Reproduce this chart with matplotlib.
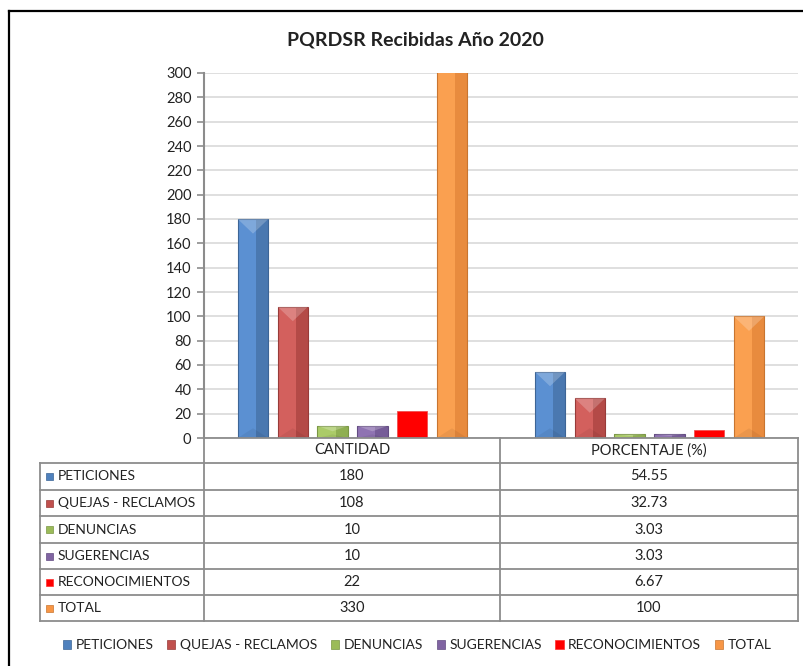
import numpy as np
import matplotlib
matplotlib.use("Agg")
import matplotlib.pyplot as plt
from matplotlib.patches import Rectangle, Polygon, Patch
from matplotlib.lines import Line2D

# ---- data ----
categories = ["CANTIDAD", "PORCENTAJE (%)"]
series = ["PETICIONES", "QUEJAS - RECLAMOS", "DENUNCIAS", "SUGERENCIAS",
          "RECONOCIMIENTOS", "TOTAL"]
cantidad = [180, 108, 10, 10, 22, 330]
porcentaje = [54.55, 32.73, 3.03, 3.03, 6.67, 100]
cantidad_txt = ["180", "108", "10", "10", "22", "330"]
porcentaje_txt = ["54.55", "32.73", "3.03", "3.03", "6.67", "100"]
yticks = list(range(0, 301, 20))

# base / light / dark shades per series
base = ["#4F81BD", "#C0504D", "#9BBB59", "#8064A2", "#FF0000", "#F79646"]
light = ["#5B90D2", "#D3605D", "#ABCB68", "#8F73B2", "#FF0000", "#FAA050"]
dark = ["#4A78B0", "#B44A47", "#8FAF52", "#765C98", "#FF0000", "#E88B3E"]
edge = ["#3D6596", "#983B39", "#7A9644", "#634C82", "#FF3030", "#C87530"]
flat = [False, False, False, False, True, False]

plt.rcParams['font.family'] = ['Lato', 'DejaVu Sans']

W, H = 804, 666
fig = plt.figure(figsize=(W / 100, H / 100), dpi=100)

def fx(px):
    return px / W

def fy(py):
    return 1 - py / H

# outer frame
fig.add_artist(Line2D([fx(9.5), fx(9.5)], [fy(10.5), fy(700)], color="black", lw=1.6))
fig.add_artist(Line2D([fx(9.5), fx(810)], [fy(10.5), fy(10.5)], color="black", lw=1.6))

x_left, x_right, y_top, y_bot = 204, 798, 73, 438
ax = fig.add_axes([fx(x_left), fy(y_bot), fx(x_right - x_left), (y_bot - y_top) / H])
ax.set_xlim(0, 2)
ax.set_ylim(0, 300)
ax.set_yticks(yticks)
ax.set_yticklabels([str(t) for t in yticks], fontsize=10.5, color="#222222")
ax.set_xticks([])
ax.grid(axis="y", color="#D9D9D9", lw=1.2)
ax.set_axisbelow(True)
for s in ["top", "right", "bottom"]:
    ax.spines[s].set_visible(False)
ax.spines["left"].set_color("#8C8C8C")
ax.spines["left"].set_linewidth(1.5)
ax.tick_params(axis="y", length=5, width=1.2, color="#8C8C8C", pad=4)

bw = 0.103
step = 0.134
offsets = [(i - 2.5) * step for i in range(len(series))]

for ci, vals in enumerate([cantidad, porcentaje]):
    for si, v in enumerate(vals):
        xc = ci + 0.5 + offsets[si]
        x0 = xc - bw / 2
        if flat[si]:
            ax.bar(xc, v, width=bw, color=base[si], edgecolor="#F05050", lw=0.6, zorder=3)
            continue
        # left light part, right darker part
        ax.bar(x0 + bw * 0.3, v, width=bw * 0.6, color=light[si], lw=0, zorder=3)
        ax.bar(x0 + bw * 0.8, v, width=bw * 0.4, color=dark[si], lw=0, zorder=3)
        ax.add_patch(Rectangle((x0, 0), bw, v, fill=False, edgecolor=edge[si],
                               lw=0.8, zorder=4))
        if v <= 300:
            bev = min(12.0, v * 0.45)
            ax.add_patch(Polygon([[x0, v], [x0 + bw, v], [xc, v - bev]], closed=True,
                                 facecolor="white", alpha=0.22, edgecolor="none", zorder=4))
        # soft bottom bevel
        bb = min(8.0, v * 0.3)
        ax.add_patch(Polygon([[x0, 0], [x0 + bw, 0], [xc, bb]], closed=True,
                             facecolor="black", alpha=0.06, edgecolor="none", zorder=4))

# ---- data table ----
row_edges = [438, 463, 490, 516, 543, 569, 595, 621]
col_edges = [40, 204, 500, 798]
gcol = "#8C8C8C"
def hline(y, xa, xb):
    fig.add_artist(Line2D([fx(xa), fx(xb)], [fy(y), fy(y)], color=gcol, lw=1.3))
def vline(x, ya, yb):
    fig.add_artist(Line2D([fx(x), fx(x)], [fy(ya), fy(yb)], color=gcol, lw=1.3))

hline(row_edges[0], col_edges[1], col_edges[3])
for y in row_edges[1:]:
    hline(y, col_edges[0], col_edges[3])
vline(col_edges[0], row_edges[1], row_edges[-1])
vline(col_edges[1], row_edges[0], row_edges[-1])
vline(col_edges[2], row_edges[0], row_edges[-1])
vline(col_edges[3], row_edges[0], row_edges[-1])

fs = 10.5
c1 = (col_edges[1] + col_edges[2]) / 2
c2 = (col_edges[2] + col_edges[3]) / 2
hy = (row_edges[0] + row_edges[1]) / 2
fig.text(fx(c1), fy(hy), categories[0], ha="center", va="center", fontsize=fs, color="#222222")
fig.text(fx(c2), fy(hy), categories[1], ha="center", va="center", fontsize=fs, color="#222222")
for i, name in enumerate(series):
    yc = (row_edges[i + 1] + row_edges[i + 2]) / 2
    fig.add_artist(Rectangle((fx(46), fy(yc + 3.5)), 7 / W, 7 / H, facecolor=base[i],
                             edgecolor=edge[i], lw=0.5))
    fig.text(fx(58), fy(yc), name, ha="left", va="center", fontsize=10, color="#222222")
    fig.text(fx(c1), fy(yc), cantidad_txt[i], ha="center", va="center", fontsize=fs, color="#222222")
    fig.text(fx(c2), fy(yc), porcentaje_txt[i], ha="center", va="center", fontsize=fs, color="#222222")

# title
fig.text(fx(415), fy(40), "PQRDSR Recibidas Año 2020", ha="center", va="center",
         fontsize=14, fontweight="bold", color="#222222")

# legend
handles = [Patch(facecolor=base[i], edgecolor=edge[i], lw=0.5) for i in range(len(series))]
fig.legend(handles, series, loc="center", bbox_to_anchor=(fx(417), fy(645)), ncol=6,
           frameon=False, fontsize=10, handlelength=0.6, handleheight=0.6,
           handletextpad=0.3, columnspacing=1.0, labelcolor="#222222")

fig.savefig("out.png", dpi=100)
